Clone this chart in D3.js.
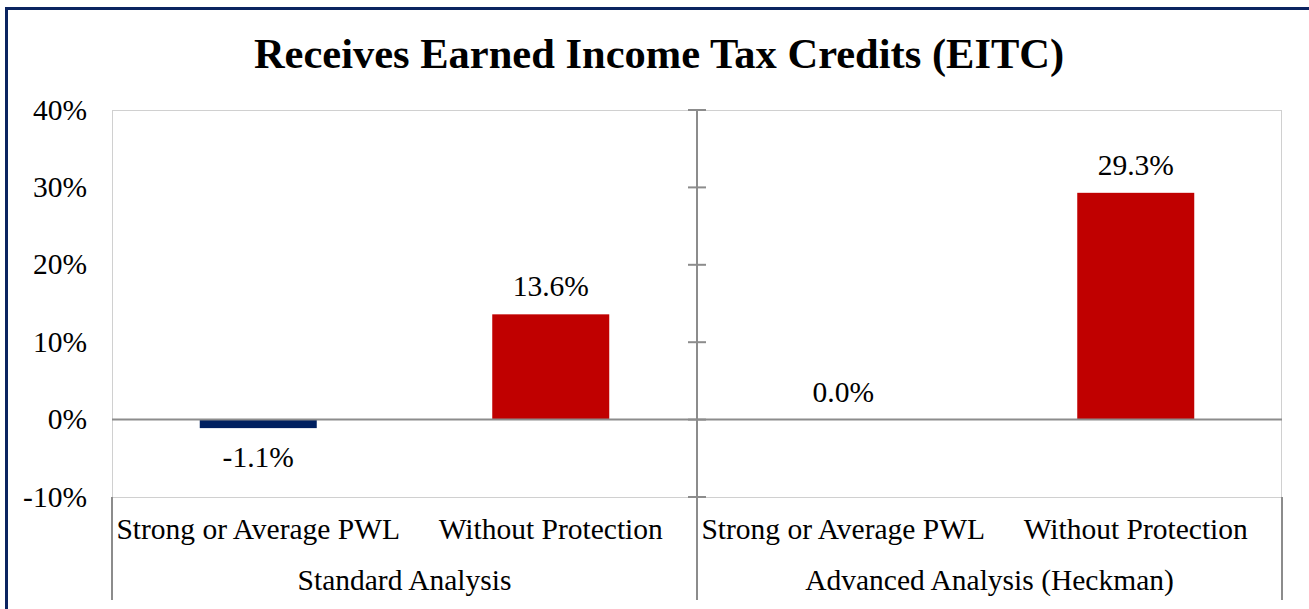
<!DOCTYPE html>
<html><head><meta charset="utf-8">
<script src="https://cdn.jsdelivr.net/npm/d3@7"></script>
<style>html,body{margin:0;padding:0;background:#fff;}svg{display:block;}</style>
</head><body>
<script>
const title = "Receives Earned Income Tax Credits (EITC)";
const groups = ["Standard Analysis", "Advanced Analysis (Heckman)"];
const categories = ["Strong or Average PWL", "Without Protection", "Strong or Average PWL", "Without Protection"];
const categoryGroup = [0, 0, 1, 1];
const values = [-1.1, 13.6, 0.0, 29.3];
const barColors = ["#002060", "#C00000", "#002060", "#C00000"];
const yTicks = [-10, 0, 10, 20, 30, 40];

const W = 1309, H = 609;
const svg = d3.select("body").append("svg").attr("width", W).attr("height", H);
const font = "'Liberation Serif','Times New Roman',serif";
const fs = 29.5;
const gray = "#8c8c8c";

// outer frame
svg.append("rect").attr("x", 6.5).attr("y", 8.5).attr("width", W + 20).attr("height", H + 20)
  .attr("fill", "none").attr("stroke", "#0b2460").attr("stroke-width", 3);

svg.append("text").attr("x", 659).attr("y", 68).attr("text-anchor", "middle")
  .attr("font-family", font).attr("font-weight", "bold").attr("font-size", 42.5).attr("fill", "#000").text(title);

const L = 112, R = 1282;
const y = d3.scaleLinear().domain([-10, 40]).range([497, 110]);
const x = d3.scaleBand().domain(d3.range(categories.length)).range([L, R]).paddingInner(0.6).paddingOuter(0.3);
const xs = d3.scaleBand().domain(d3.range(categories.length)).range([L, R]);
const xg = d3.scaleBand().domain(d3.range(groups.length)).range([L, R]);

// plot area border
svg.append("rect").attr("x", L + 0.5).attr("y", y(40) + 0.5).attr("width", R - L - 1).attr("height", y(-10) - y(40))
  .attr("fill", "none").attr("stroke", "#d0d0d0").attr("stroke-width", 1);

// bars
svg.selectAll("rect.bar").data(values).join("rect").attr("class", "bar")
  .attr("x", (d, i) => x(i)).attr("width", x.bandwidth())
  .attr("y", d => y(Math.max(0, d))).attr("height", d => Math.abs(y(d) - y(0)))
  .attr("fill", (d, i) => barColors[i]);

// zero line
svg.append("line").attr("x1", L).attr("x2", R).attr("y1", y(0)).attr("y2", y(0))
  .attr("stroke", gray).attr("stroke-width", 2);

// value labels
svg.selectAll("text.val").data(values).join("text").attr("class", "val")
  .attr("x", (d, i) => x(i) + x.bandwidth() / 2)
  .attr("y", d => d < 0 ? y(d) + 38.5 : y(d) - 18)
  .attr("text-anchor", "middle").attr("font-family", font).attr("font-size", fs).attr("fill", "#000")
  .text(d => d.toFixed(1) + "%");

// y tick labels
svg.selectAll("text.yt").data(yTicks).join("text").attr("class", "yt")
  .attr("x", 87).attr("y", d => y(d) + 9.5).attr("text-anchor", "end")
  .attr("font-family", font).attr("font-size", fs).attr("fill", "#000").text(d => d + "%");

// middle vertical axis with ticks
const midX = xg(1);
svg.append("line").attr("x1", midX).attr("x2", midX).attr("y1", y(40)).attr("y2", 600)
  .attr("stroke", gray).attr("stroke-width", 2);
svg.selectAll("line.tk").data(yTicks).join("line").attr("class", "tk")
  .attr("x1", midX - 9).attr("x2", midX + 9).attr("y1", d => y(d)).attr("y2", d => y(d))
  .attr("stroke", gray).attr("stroke-width", 2);

// outer category separators
[L, R].forEach(px => {
  svg.append("line").attr("x1", px).attr("x2", px).attr("y1", y(-10)).attr("y2", 600)
    .attr("stroke", gray).attr("stroke-width", 2);
});

// category labels
svg.selectAll("text.cat").data(categories).join("text").attr("class", "cat")
  .attr("x", (d, i) => xs(i) + xs.bandwidth() / 2).attr("y", 539).attr("text-anchor", "middle")
  .attr("font-family", font).attr("font-size", fs).attr("fill", "#000").text(d => d);

svg.selectAll("text.grp").data(groups).join("text").attr("class", "grp")
  .attr("x", (d, i) => xg(i) + xg.bandwidth() / 2).attr("y", 590).attr("text-anchor", "middle")
  .attr("font-family", font).attr("font-size", fs).attr("fill", "#000").text(d => d);
</script>
</body></html>
